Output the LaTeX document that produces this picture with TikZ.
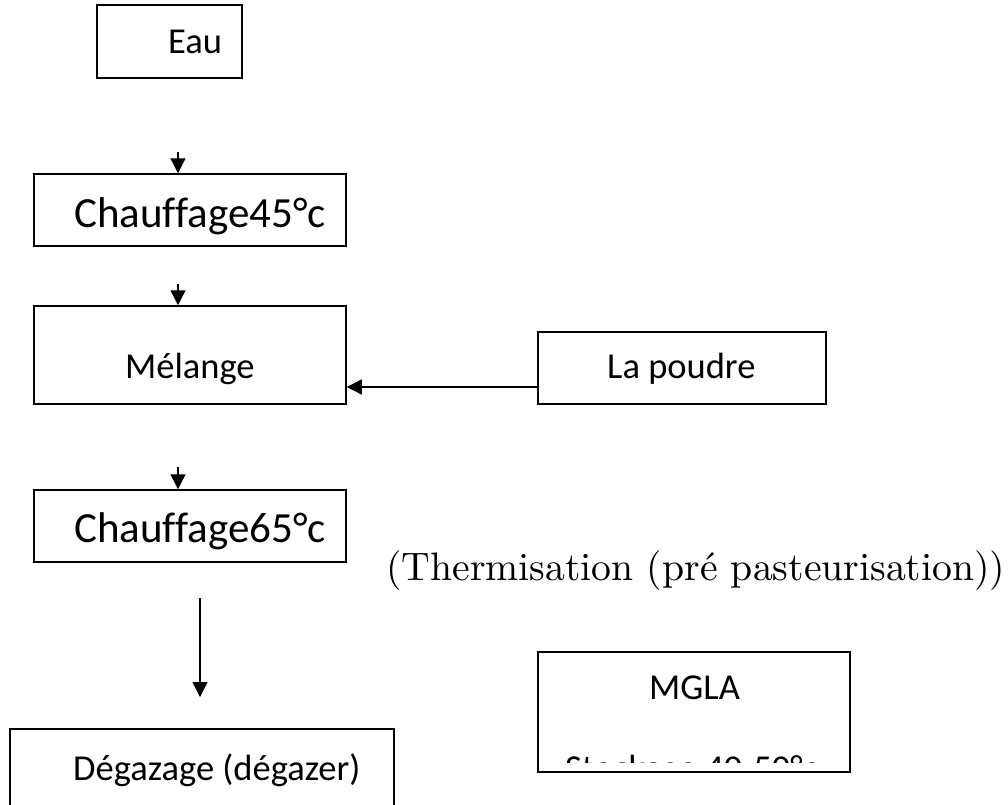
\documentclass[tikz,border=0pt]{standalone}
\usepackage{fontspec}
\setmainfont{Latin Modern Roman}
\newfontfamily\boxfont[Ligatures=NoCommon]{Carlito}
\usetikzlibrary{arrows.meta}

\begin{document}
\begin{tikzpicture}[x=1pt,y=-1pt,
  stepbox/.style={draw, line width=1.5pt, inner sep=0pt, fill=white},
  lbl/.style={inner sep=0pt, anchor=base west, font=\boxfont\fontsize{36.5}{40}\selectfont},
  biglbl/.style={lbl, font=\boxfont\fontsize{43}{47}\selectfont},
  flow/.style={line width=1.3pt, -{Triangle[length=15pt,width=15pt]}}
]
\useasboundingbox (0,0) rectangle (1008,804);
\clip (0,0) rectangle (1008,804);

% process boxes
\node[stepbox, minimum width=145pt, minimum height=73pt] (eau) at (169.5,41.5) {};
\node[stepbox, minimum width=312pt, minimum height=72pt] (ch45) at (190,210) {};
\node[stepbox, minimum width=312pt, minimum height=98pt] (mel) at (190,355) {};
\node[stepbox, minimum width=288pt, minimum height=72pt] (poudre) at (682,368) {};
\node[stepbox, minimum width=312pt, minimum height=72pt] (ch65) at (190,526) {};
\node[stepbox, minimum width=384pt, minimum height=120pt] (degaz) at (202,789) {};
\node[stepbox, minimum width=312pt, minimum height=120pt] (mgla) at (694,712) {};

% box texts
\node[lbl] (teau) at (168,53) {Eau};
\node[biglbl] (tch45) at (74,227) {Chauffage45°c};
\node[lbl] (tmel) at (125,378) {Mélange};
\node[lbl] (tpoudre) at (607,378) {La poudre};
\node[biglbl] (tch65) at (74,542) {Chauffage65°c};
\node[lbl] (tdegaz) at (73,780) {Dégazage (dégazer)};
\node[lbl] (tmgla) at (649,699) {MGLA};
\begin{scope}
  \clip (540,654) rectangle (848,762);
  \node[lbl] (tstock) at (565,780) {Stockage 40-50°c};
\end{scope}

% side note
\node[inner sep=0pt, anchor=base west] (therm) at (386,580)
  {\resizebox{619pt}{!}{(Thermisation (pré pasteurisation))}};

% connectors
\coordinate (a1) at (178,152);
\coordinate (a2) at (178,284);
\coordinate (a3) at (178,467);
\coordinate (a4s) at (200,598);
\coordinate (a4e) at (200,697);
\coordinate (ap) at (0,387);

\draw[flow] (a1) -- (a1 |- ch45.north);
\draw[flow] (a2) -- (a2 |- mel.north);
\draw[flow] (a3) -- (a3 |- ch65.north);
\draw[flow] (a4s) -- (a4e);
\draw[flow] (poudre.west |- ap) -- (mel.east |- ap);
\end{tikzpicture}
\end{document}
